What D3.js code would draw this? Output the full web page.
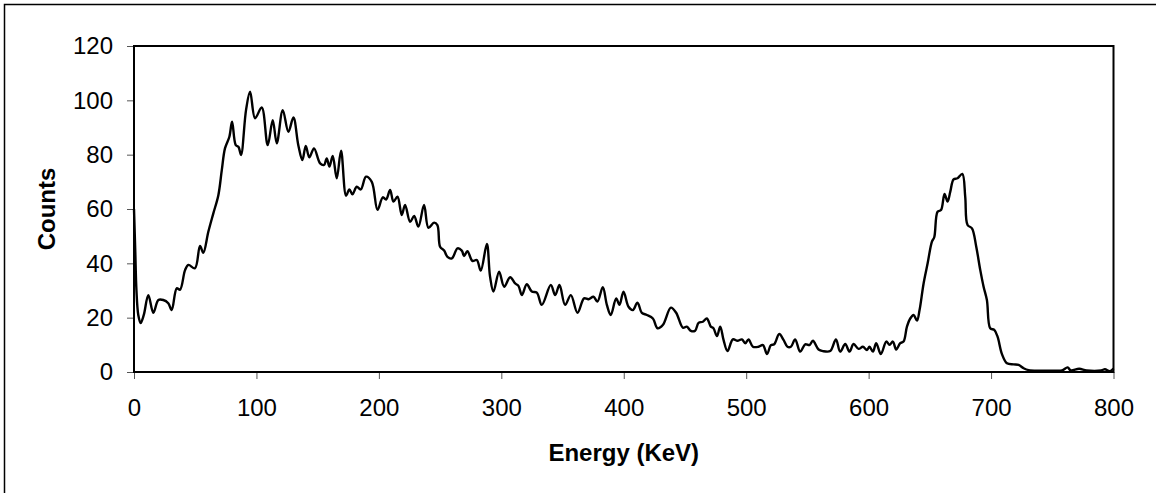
<!DOCTYPE html>
<html><head><meta charset="utf-8">
<script src="https://cdn.jsdelivr.net/npm/d3@7"></script>
<style>
html,body{margin:0;padding:0;background:#fff;}
svg{display:block;font-family:"Liberation Sans",Arial,sans-serif;}
</style></head>
<body>
<svg id="chart" width="1156" height="493"></svg>
<script>
const energy = [0,1,2,3.5,5.4,8,11.7,15.8,19.9,23.9,28,30.8,34.9,37.6,41.7,44.4,49.8,53.9,56.6,60.7,64.8,68.9,71.7,74.3,77.9,80.1,83.1,85.3,87.4,91.5,94.8,98.9,104.3,109.2,113.3,116.6,121.5,126.1,130.2,134.2,137.5,140.3,143.2,147,152,155.2,157.4,159.6,162.3,165.6,169.1,173.2,175.9,178.4,181.9,185.2,189.5,194.2,198.9,203.2,205.9,209.2,211.9,215.2,218.7,221.4,225.5,228.8,232.3,236.9,240.5,245.1,247.8,250,253.3,256,259.6,264.2,267.7,269.6,272.3,276.4,280,283.2,288.2,290.8,293.6,298.2,302.3,307.2,311.3,314,316.8,320.8,324.9,329,333.1,340.4,344,347.5,352.1,356.8,362.2,367.6,371.2,375.3,378.5,382.9,386.2,389.4,393.8,396.5,399.8,403.9,407.4,411.2,414.8,418.9,423.8,427.6,431.9,438.5,442.8,448.3,451.5,454.8,458.3,461.1,464.6,467.9,471.1,473.3,476.1,478.8,481.5,484.7,489.1,492.9,496.5,499.2,501.9,505.5,510.1,513.7,517,520.2,522.9,527,530.5,533.7,536.5,540,544.1,548.2,551.7,554.5,559.1,562.6,568.6,573.3,576.8,580.9,584.4,587.7,591.8,595.3,598.6,600.7,603.5,606.2,610,614.4,617.1,619.8,622.5,625.8,628.5,631.3,634,636.7,639.5,641.6,644.9,648.2,651.7,653.6,656.3,659.1,662,664.5,666.7,669.4,672.6,676.5,678.9,680.8,684.4,687.9,691.2,693.9,696.6,699.3,702.6,705.3,708.9,713,718.4,722.5,726.6,730.7,740,750,758,762.5,765,772,778,790,793,797,800];
const counts = [60,45,30,21,18,21,28.3,21.8,26.5,26.5,25.3,22.8,30.8,30.3,37.5,39.4,38.2,46.4,43.9,51.6,58.4,65.1,74.3,82.3,86.6,92.1,83.5,82.9,79.9,96.4,103.2,93.4,97.4,83.5,92.7,84.2,96.4,88.4,93.7,83.5,78,83.2,79,82.3,76.8,76.2,78.6,75.6,79.5,71.3,81.5,64.9,67.2,65.4,68.2,67.2,71.9,70,59.7,64.3,63.5,67,62.7,64.5,57.8,61.5,55.3,57.4,53.5,61.5,53.1,55,54.1,46.1,44.7,42.4,41.8,45.5,44.7,42.7,44.5,40.9,41.2,37.3,47.1,35.1,29.6,36.9,31.4,34.9,32.6,31.7,28.3,32.3,29.6,29.2,24.7,32,28.3,32,24.7,28.3,21.8,27.1,26.8,27.7,25.9,31.2,24.7,21,27.1,24.7,29.6,24,22.8,25.5,21.8,21,19.7,16.1,17.3,23.7,21.8,16.3,16.7,15.1,15.2,18.1,18.5,19.7,16.7,16.1,13.2,16.7,11.8,7.7,12,11.5,12,10.6,12,9.3,9.3,9.9,6.6,9.9,10.2,14,11.8,9.3,9.3,12,7.5,10.2,9.9,11.5,8.3,7.7,7.7,12,7.5,10.3,7.5,10.3,8.5,9.3,8.1,9.3,7.5,10.6,6.6,11.2,10,11.2,8.3,10.6,11.2,16.7,19.7,21,18.9,22.8,32.6,40,48,49.6,59,59.6,65.5,62.7,66.4,70.9,71.3,72.9,64.5,54.1,52.9,46.1,37.5,31.4,26.5,16.1,15.5,13,6.6,3.2,2.8,2.6,1.4,0.7,0.5,0.5,0.6,1.7,0.6,1.2,0.6,0.6,1.0,0.3,1.3];
const xTicks = [0,100,200,300,400,500,600,700,800];
const yTicks = [0,20,40,60,80,100,120];
const xTitle = "Energy (KeV)";
const yTitle = "Counts";

const svg = d3.select("#chart");
const L = 134, R = 1113.5, T = 46, B = 372;
const x = d3.scaleLinear().domain([0,800]).range([L,R]);
const y = d3.scaleLinear().domain([0,120]).range([B,T]);

// outer border (only top/left visible)
svg.append("rect").attr("x",4.5).attr("y",4.5).attr("width",1300).attr("height",600)
  .attr("fill","none").attr("stroke","#000").attr("stroke-width",1.5);

// axes
const xa = svg.append("g").attr("transform",`translate(0,${B})`)
  .call(d3.axisBottom(x).tickValues(xTicks).tickSize(7).tickPadding(20).tickFormat(d3.format("d")));
const ya = svg.append("g").attr("transform",`translate(${L},0)`)
  .call(d3.axisLeft(y).tickValues(yTicks).tickSize(7).tickPadding(14).tickFormat(d3.format("d")));
[xa,ya].forEach(g=>{
  g.select(".domain").remove();
  g.selectAll(".tick line").attr("stroke","#555").attr("stroke-width",1);
  g.selectAll(".tick text").attr("font-size",24).attr("fill","#000")
    .attr("font-family","'Liberation Sans',Arial,sans-serif");
});

// plot frame
svg.append("rect").attr("x",L).attr("y",T).attr("width",R-L).attr("height",B-T)
  .attr("fill","none").attr("stroke","#000").attr("stroke-width",2);

// line
const pts = energy.map((e,i)=>[e,counts[i]]);
svg.append("path").datum(pts)
  .attr("d", d3.line().x(d=>x(d[0])).y(d=>y(d[1])).curve(d3.curveCatmullRom.alpha(0.5)))
  .attr("fill","none").attr("stroke","#000").attr("stroke-width",2.4).attr("stroke-linejoin","round");

// titles
svg.append("text").attr("x",(L+R)/2).attr("y",461).attr("text-anchor","middle")
  .attr("font-size",24).attr("font-weight","bold").text(xTitle);
svg.append("text").attr("transform",`translate(55,${(T+B)/2}) rotate(-90)`).attr("text-anchor","middle")
  .attr("font-size",24).attr("font-weight","bold").text(yTitle);
</script>
</body></html>
